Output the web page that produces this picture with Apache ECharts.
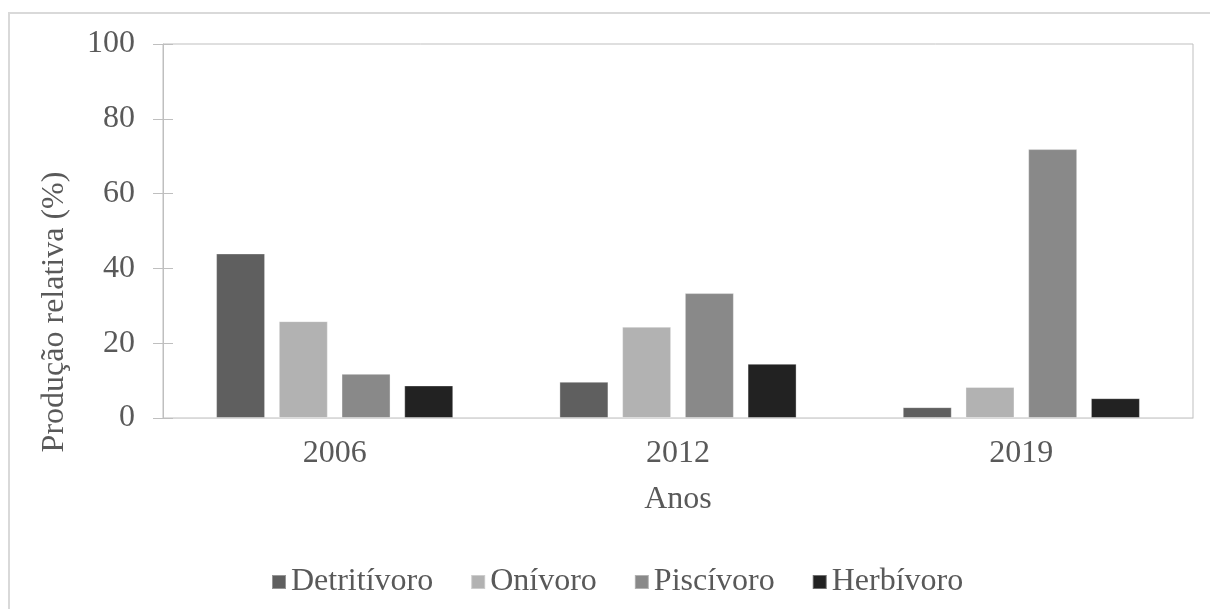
<!DOCTYPE html>
<html>
<head>
<meta charset="utf-8">
<script src="https://cdn.jsdelivr.net/npm/echarts@6/dist/echarts.min.js"></script>
<style>
  html, body { margin: 0; padding: 0; background: #ffffff; }
  #chart { width: 1210px; height: 609px; }
</style>
</head>
<body>
<div id="chart"></div>
<script>
// Relative production (%) by trophic guild and year
const anos = ['2006', '2012', '2019'];
const detritivoro = [44.0, 9.7, 2.9];
const onivoro = [25.9, 24.4, 8.3];
const piscivoro = [11.8, 33.4, 71.9];
const herbivoro = [8.7, 14.5, 5.3];
const yTicks = [0, 20, 40, 60, 80, 100];

const FONT = '"Liberation Serif", "Times New Roman", serif';
const FS = 32;
const TEXT = '#595959';

const chart = echarts.init(document.getElementById('chart'), null, { renderer: 'canvas' });

function barSeries(name, data, color) {
  return {
    name: name,
    type: 'bar',
    data: data,
    barWidth: 49,
    barGap: '28%',
    itemStyle: { color: color, borderColor: 'rgba(255,255,255,0.35)', borderWidth: 1 }
  };
}

chart.setOption({
  animation: false,
  backgroundColor: '#ffffff',
  textStyle: { fontFamily: FONT },
  grid: {
    left: 163, top: 44, right: 17, bottom: 191,
    show: true, borderColor: '#bfbfbf', borderWidth: 1
  },
  legend: {
    left: 266, top: 561,
    itemWidth: 14, itemHeight: 14, itemGap: 37,
    icon: 'rect',
    textStyle: { fontFamily: FONT, fontSize: FS, color: TEXT },
    data: ['Detritívoro', 'Onívoro', 'Piscívoro', 'Herbívoro']
  },
  xAxis: {
    type: 'category',
    data: anos,
    name: 'Anos',
    nameLocation: 'middle',
    nameGap: 66,
    nameTextStyle: { fontFamily: FONT, fontSize: FS, color: TEXT },
    axisLine: { show: true, lineStyle: { color: '#d9d9d9', width: 1 } },
    axisTick: { show: false },
    axisLabel: { fontFamily: FONT, fontSize: FS, color: TEXT, margin: 20 }
  },
  yAxis: [
    {
      type: 'value',
      min: yTicks[0], max: yTicks[yTicks.length - 1], interval: 20,
      axisLine: { show: true, lineStyle: { color: '#bfbfbf', width: 1 } },
      axisTick: { show: true, length: 10, lineStyle: { color: '#bfbfbf' } },
      axisLabel: { fontFamily: FONT, fontSize: FS, color: TEXT, margin: 28 },
      splitLine: { show: false }
    },
    {
      // inner half of the crossing tick marks
      type: 'value', position: 'left',
      min: yTicks[0], max: yTicks[yTicks.length - 1], interval: 20,
      axisLine: { show: false },
      axisTick: { show: true, inside: true, length: 10, lineStyle: { color: '#bfbfbf' } },
      axisLabel: { show: false },
      splitLine: { show: false }
    }
  ],
  graphic: [
    {
      type: 'rect', silent: true, z: -1,
      shape: { x: 9, y: 13, width: 1400, height: 800 },
      style: { fill: 'none', stroke: '#d9d9d9', lineWidth: 2 }
    },
    {
      type: 'text', x: 55, y: 312, rotation: Math.PI / 2,
      style: {
        text: 'Produção relativa (%)',
        font: FS + 'px ' + FONT, fill: TEXT,
        textAlign: 'center', textVerticalAlign: 'middle'
      }
    }
  ],
  series: [
    barSeries('Detritívoro', detritivoro, '#5f5f5f'),
    barSeries('Onívoro', onivoro, '#b2b2b2'),
    barSeries('Piscívoro', piscivoro, '#898989'),
    barSeries('Herbívoro', herbivoro, '#222222')
  ]
});
</script>
</body>
</html>
